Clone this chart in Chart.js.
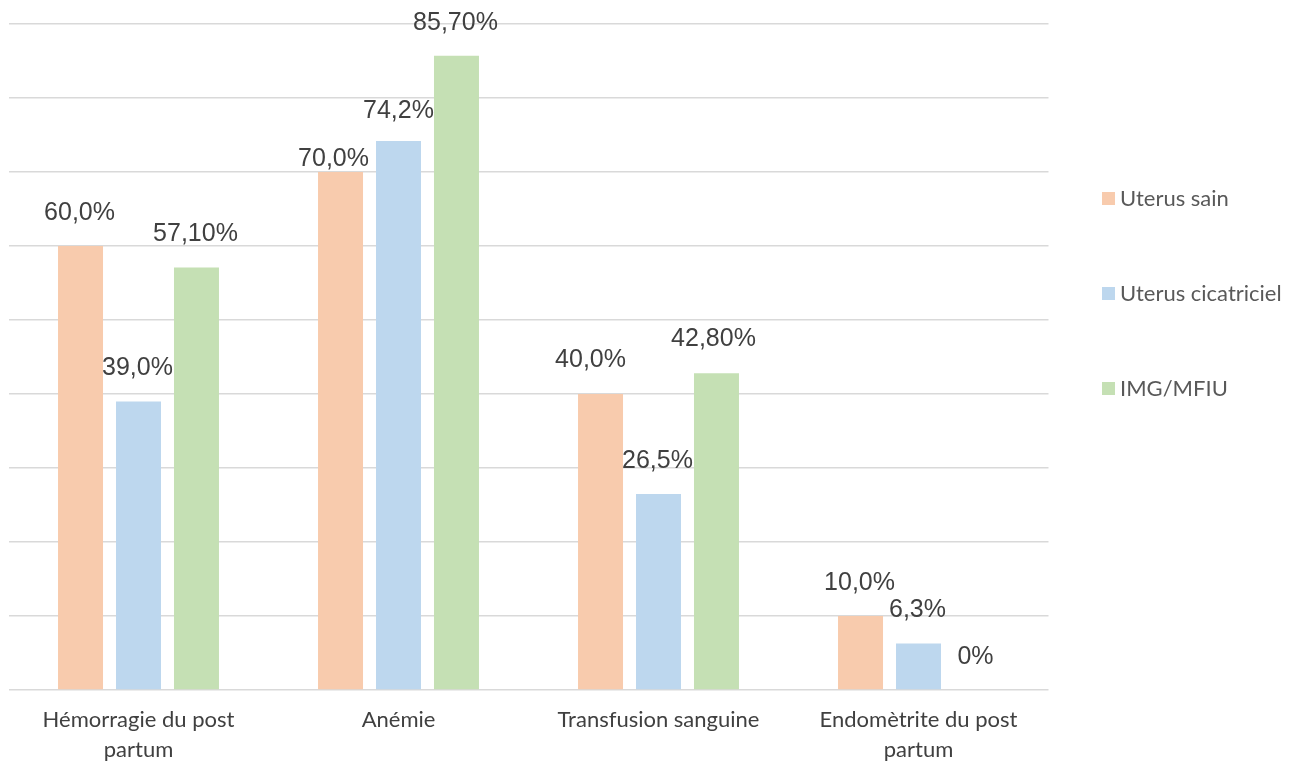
<!DOCTYPE html>
<html lang="fr">
<head>
<meta charset="UTF-8">
<title>Complications</title>
<script src="https://cdn.jsdelivr.net/npm/chart.js"></script>
<style>
  body { margin: 0; background: #fff; }
  #wrap { width: 1300px; height: 765px; }
</style>
</head>
<body>
<div id="wrap"><canvas id="chart" width="1300" height="765"></canvas></div>
<script>
// data
const categories = [['Hémorragie du post', 'partum'], 'Anémie', 'Transfusion sanguine', ['Endomètrite du post', 'partum']];
const seriesNames = ['Uterus sain', 'Uterus cicatriciel', 'IMG/MFIU'];
const uterusSain = [60, 70, 40, 10];
const uterusCicatriciel = [39, 74.2, 26.5, 6.3];
const imgMfiu = [57.1, 85.7, 42.8, 0];
const labelsSain = ['60,0%', '70,0%', '40,0%', '10,0%'];
const labelsCicatriciel = ['39,0%', '74,2%', '26,5%', '6,3%'];
const labelsImg = ['57,10%', '85,70%', '42,80%', '0%'];

const seriesColors = ['#F8CBAD', '#BDD7EE', '#C5E0B4'];
const valueLabels = [labelsSain, labelsCicatriciel, labelsImg];

// small nudges for the data labels (dx, dy from bar top centre)
function labelNudge(ds, i) {
    if (ds === 0 && i === 1) return [-7, -13];
    if (ds === 0 && i === 2) return [-10, -34];
    if (ds === 1 && i === 1) return [0, -30];
    if (ds === 2 && i === 2) return [-3, -34];
    return [-1, -33];
}

const dataLabelPlugin = {
    id: 'dataLabels',
    afterDatasetsDraw(chart) {
        const ctx = chart.ctx;
        ctx.save();
        ctx.font = '25px "Liberation Sans", Arial, sans-serif';
        ctx.fillStyle = '#404040';
        ctx.textAlign = 'center';
        ctx.textBaseline = 'middle';
        chart.data.datasets.forEach((d, ds) => {
            chart.getDatasetMeta(ds).data.forEach((bar, i) => {
                const n = labelNudge(ds, i);
                ctx.fillText(valueLabels[ds][i], bar.x + n[0], bar.y + n[1]);
            });
        });
        ctx.restore();
    }
};

const legendPlugin = {
    id: 'sideLegend',
    afterDraw(chart) {
        const ctx = chart.ctx;
        ctx.save();
        ctx.font = '22px Lato, "Open Sans", sans-serif';
        ctx.textBaseline = 'middle';
        seriesNames.forEach((name, i) => {
            const y = 199 + i * 95;
            ctx.fillStyle = seriesColors[i];
            ctx.fillRect(1102, y - 7, 13, 13);
            ctx.fillStyle = '#595959';
            ctx.fillText(name, 1120, y);
        });
        ctx.restore();
    }
};

const chart = new Chart(document.getElementById('chart'), {
    type: 'bar',
    data: {
        labels: categories,
        datasets: [
            { label: seriesNames[0], data: uterusSain, backgroundColor: seriesColors[0] },
            { label: seriesNames[1], data: uterusCicatriciel, backgroundColor: seriesColors[1] },
            { label: seriesNames[2], data: imgMfiu, backgroundColor: seriesColors[2] }
        ]
    },
    options: {
        responsive: false,
        animation: false,
        devicePixelRatio: 1,
        categoryPercentage: 0.669,
        barPercentage: 0.776,
        layout: { padding: { left: 8.5, right: 251.5, top: 24, bottom: 0 } },
        plugins: {
            legend: { display: false },
            tooltip: { enabled: false }
        },
        scales: {
            x: {
                grid: { display: false, drawTicks: false },
                border: { display: false },
                ticks: {
                    color: '#404040',
                    font: { family: 'Lato, "Open Sans", sans-serif', size: 22, lineHeight: 1.36 },
                    padding: 15,
                    maxRotation: 0,
                    autoSkip: false
                },
                afterFit(scale) { scale.height = 75; }
            },
            y: {
                min: 0,
                max: 90,
                ticks: { display: false, stepSize: 10 },
                grid: { color: '#D9D9D9', lineWidth: 1.5, drawTicks: false },
                border: { display: false },
                afterFit(scale) { scale.width = 0; }
            }
        }
    },
    plugins: [dataLabelPlugin, legendPlugin]
});
</script>
</body>
</html>
